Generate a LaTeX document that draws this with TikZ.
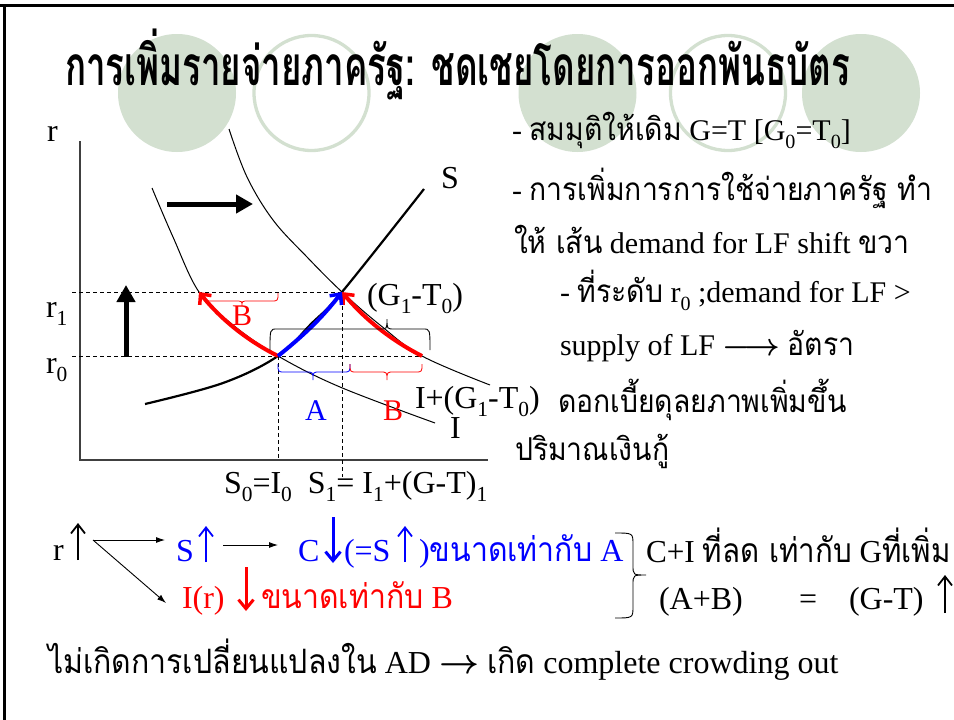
\documentclass[tikz,border=0pt]{standalone}
\usepackage{fontspec}
\setmainfont{Liberation Serif}
\newfontfamily\thaif[Script=Thai,Scale=1.05,FakeStretch=0.9]{Loma}
\newfontfamily\thaititle[Script=Thai,FakeStretch=0.635]{Loma}
\usetikzlibrary{arrows.meta}
\definecolor{sage}{RGB}{211,224,208}
\definecolor{tblue}{RGB}{0,0,255}
\definecolor{tred}{RGB}{255,0,0}
\newcommand\sbs[1]{\raisebox{-0.28em}{\scalebox{0.67}{#1}}}
\newcommand\T[1]{{\thaif #1}}
% horizontal brace: style, x1, x2, xtip, yend, ymid, ytip
\newcommand\hbrace[7]{\draw[#1] (#2,#5) .. controls (#2,#6) and (#2,#6) .. ({#2+7},#6) -- ({#4-7},#6) .. controls (#4,#6) and (#4,#6) .. (#4,#7) .. controls (#4,#6) and (#4,#6) .. ({#4+7},#6) -- ({#3-7},#6) .. controls (#3,#6) and (#3,#6) .. (#3,#5);}
\begin{document}
\begin{tikzpicture}[x=1pt,y=-1pt,
  every node/.style={inner sep=0pt,outer sep=0pt},
  lbl/.style={anchor=base west,font=\fontsize{32}{38}\selectfont},
  ablbl/.style={anchor=base west,font=\fontsize{30}{36}\selectfont},
  body/.style={anchor=base west,font=\fontsize{30}{36}\selectfont},
  bot/.style={anchor=base west,font=\fontsize{32}{38}\selectfont},
  curve/.style={line width=1pt,black},
  scurve/.style={line width=2.2pt,black},
  dashline/.style={line width=0.9pt,dash pattern=on 4pt off 3pt},
  bigar/.style={line width=5pt,-{Triangle[length=17pt,width=18pt]}},
  movear/.style={line width=4pt,-{Straight Barb[length=8pt,width=15pt,line width=3.5pt]}},
  upar/.style={line width=1.8pt,-{Straight Barb[length=9pt,width=14pt]}},
  downar/.style={line width=3pt,-{Straight Barb[length=9pt,width=15pt]}},
  thinar/.style={line width=0.9pt,-{Latex[length=9pt,width=6pt]}},
  ring/.style={draw=sage,line width=3.3pt},
  disc/.style={fill=sage}]
\useasboundingbox (0,0) rectangle (954,720);
\fill[white] (0,0) rectangle (954,720);
% frame
\draw[line width=3pt] (0,5.3) -- (954,5.3);
\draw[line width=3pt] (4.5,5.3) -- (4.5,720);
% decorative circles
\fill[disc] (177,93) circle (59);
\draw[ring] (311.5,93) circle (57.5);
\fill[disc] (577.5,93) circle (59);
\draw[ring] (728,93) circle (57.5);
\fill[disc] (861,93) circle (59);
% title
\node[anchor=base west] (title) at (65,85) {\thaititle\bfseries\fontsize{55}{60}\selectfont การเพิ่มรายจ่ายภาครัฐ: ชดเชยโดยการออกพันธบัตร};
% axes
\draw[line width=1.2pt,black!75] (80,141) -- (80,460) -- (488,460);
\node[lbl] (ry) at (47,141) {r};
\node[lbl] (r1) at (46,317) {r\sbs{1}};
\node[lbl] (r0) at (46,373) {r\sbs{0}};
% dashed guides
\draw[dashline] (72,292) -- (342,292);
\draw[dashline] (72,356) -- (422,356);
\draw[dashline] (278,356) -- (278,460);
\draw[dashline] (342,292) -- (342,477);
% curves
\draw[curve] plot[smooth,tension=0.6] coordinates {(152,188) (173,237) (199,292) (233,325) (278,356) (340,387) (435,423)};
\draw[curve] plot[smooth,tension=0.6] coordinates {(229,129) (247,177) (273,220) (307,257) (342,292) (380,325) (422,356) (490,385)};
\draw[scurve] plot[smooth,tension=0.6] coordinates {(145,404) (223,383) (278,356) (311,324) (342,292) (424,189)};
% movement arrows
\draw[movear,tred] (278,356) .. controls (247,340.5) and (220.6,319.1) .. (199,292);
\draw[movear,tred] (422,356) .. controls (390.9,340.2) and (364.3,318.8) .. (342,292);
\draw[movear,tblue] (278,356) .. controls (303,336) and (322,318) .. (342,292);
% big black arrows
\draw[bigar] (167,204) -- (253,204);
\draw[bigar] (126,357) -- (126,285);
% braces
\hbrace{tred,line width=0.8pt}{205}{278}{242}{293}{301}{306}
\hbrace{line width=0.9pt}{270}{430}{387}{350}{329}{319}
\hbrace{tblue,line width=0.8pt}{278}{350}{313}{364}{372}{380}
\hbrace{tred,line width=0.8pt}{350}{422}{387}{364}{372}{380}
% graph labels
\node[lbl] (Slab) at (441,188) {S};
\node[lbl] (gt) at (367,305) {(G\sbs{1}-T\sbs{0})};
\node[lbl] (igt) at (415,408) {I+(G\sbs{1}-T\sbs{0})};
\node[lbl] (Ilab) at (450,438) {I};
\node[ablbl,text=tblue] (Alab) at (305,420) {A};
\node[ablbl,text=tred] (Blab) at (383,420) {B};
\node[ablbl,text=tred] (Blab2) at (232,325) {B};
\node[lbl] (eqlab) at (224,493) {S\sbs{0}=I\sbs{0}\ \ S\sbs{1}= I\sbs{1}+(G-T)\sbs{1}};
% right text
\node[body] (t1) at (512,140) {- \T{สมมุติให้เดิม} G=T [G\sbs{0}=T\sbs{0}]};
\node[body] (t2) at (512,200) {- \T{การเพิ่มการการใช้จ่ายภาครัฐ ทำ}};
\node[body] (t3) at (514,253) {\T{ให้ เส้น} demand for LF shift \T{ขวา}};
\node[body] (t4) at (560,302) {- \T{ที่ระดับ} r\sbs{0} ;demand for LF >};
\node[body] (t5) at (560,355) {supply of LF \scalebox{1.25}{\boldmath$\longrightarrow$} \T{อัตรา}};
\node[body] (t6) at (558,412) {\T{ดอกเบี้ยดุลยภาพเพิ่มขึ้น}};
\node[body] (t7) at (515,460) {\T{ปริมาณเงินกู้}};
% bottom reasoning
\node[bot] (rr) at (53,560) {r};
\draw[upar] (78,560) -- (78,523);
\coordinate (rs) at (93,540);
\coordinate (ss) at (165,540);
\coordinate (si) at (166,603);
\draw[thinar] (rs) -- (ss);
\draw[thinar] (rs) -- (si);
\node[bot,text=tblue] (Sb) at (176,561) {S};
\draw[upar,tblue] (206,562) -- (206,526);
\coordinate (sc1) at (223,545);
\coordinate (sc2) at (278,545);
\draw[thinar] (sc1) -- (sc2);
\node[bot,text=tblue] (Cb) at (298,561) {C};
\draw[downar,tblue] (333,517) -- (333,563);
\node[bot,text=tblue] (eqS) at (344,561) {(=S};
\draw[upar,tblue] (405,562) -- (405,526);
\node[bot,text=tblue] (szA) at (419,561) {)\T{ขนาดเท่ากับ} A};
\node[bot,text=tred] (Ir) at (182,608) {I(r)};
\draw[downar,tred] (246,567) -- (246,611);
\node[bot,text=tred] (szB) at (261,608) {\T{ขนาดเท่ากับ} B};
\draw[line width=0.9pt] (615,533) .. controls (633,533) and (633,533) .. (633,545) -- (633,565) .. controls (633,575) and (633,575) .. (646,575) .. controls (633,575) and (633,575) .. (633,585) -- (633,606) .. controls (633,618) and (633,618) .. (615,618);
\node[bot] (ci) at (646,562) {\scalebox{0.975}[1]{C+I \T{ที่ลด เท่ากับ} G\T{ที่เพิ่ม}}};
\node[bot] (ab) at (659,609) {(A+B)};
\node[bot] (eqb) at (799,609) {=};
\node[bot] (gmt) at (849,609) {(G-T)};
\draw[upar] (945,613) -- (945,575);
\node[bot] (last) at (48,673) {\T{ไม่เกิดการเปลี่ยนแปลงใน} AD \scalebox{1.4}{\boldmath$\rightarrow$} \T{เกิด} complete crowding out};
\end{tikzpicture}
\end{document}
